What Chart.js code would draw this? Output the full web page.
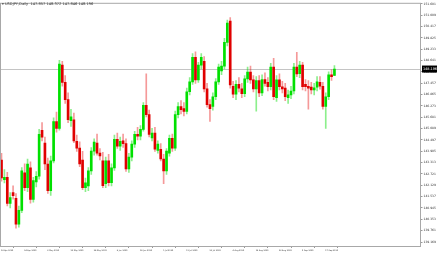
<!DOCTYPE html>
<html>
<head>
<meta charset="utf-8">
<script src="https://cdn.jsdelivr.net/npm/chart.js@4.4.1/dist/chart.umd.min.js"></script>
<style>
  html, body { margin: 0; padding: 0; background: #fff; }
</style>
</head>
<body>
<canvas id="my_chart" width="440" height="254"></canvas>
<script>
// Symbol shown in the top left corner
const symbol = 'USDJPY,Daily';

// Daily candles, 14 Apr 2025 -> 22 Sep 2025 (one per weekday)
const opens = [
  143.45,142.42,142.55,141.18,141.75,141.45,140.10,140.82,142.78,142.00,
  143.04,141.39,142.30,142.60,145.00,144.33,143.24,141.85,143.40,145.46,
  145.10,148.40,147.50,146.60,145.50,145.55,144.43,144.07,143.45,142.00,
  142.10,142.88,143.91,144.33,143.81,143.40,142.21,143.40,142.26,143.04,
  144.53,144.17,144.45,144.30,142.99,143.60,144.28,144.79,144.69,145.05,
  146.30,145.82,144.60,144.85,143.95,144.00,143.50,142.88,143.80,144.58,
  144.07,145.82,146.24,146.13,145.98,147.01,147.53,148.81,147.63,148.40,
  148.60,147.16,146.34,146.24,146.75,147.53,148.10,148.35,149.59,150.70,
  147.30,146.88,147.40,147.16,146.91,147.68,148.04,147.63,147.16,147.60,
  146.95,147.65,147.50,147.27,148.30,146.70,147.63,147.27,147.20,146.70,
  146.85,147.05,148.30,147.95,148.40,147.40,147.30,147.25,147.10,147.25,
  147.50,147.30,146.24,146.75,147.90,147.857
];
const highs = [
  143.80,142.95,142.80,141.75,142.10,141.70,141.05,143.05,143.25,143.50,
  143.35,142.55,142.85,145.05,145.40,144.65,143.55,143.65,145.65,145.95,
  148.65,148.60,147.85,146.95,146.10,145.90,144.75,144.40,143.90,142.50,
  143.05,144.10,144.55,144.80,144.05,143.85,143.60,143.75,143.25,144.75,
  144.85,144.65,144.80,144.55,143.80,144.45,144.95,145.15,145.25,146.45,
  147.94,146.05,145.10,145.15,144.45,144.30,143.75,144.05,144.75,144.80,
  146.00,146.45,146.55,146.45,147.20,147.75,149.00,149.10,148.55,149.00,
  148.85,147.45,146.60,146.95,147.70,148.45,148.60,149.80,150.75,150.88,
  147.55,147.60,147.75,147.45,147.85,148.30,148.35,147.85,147.80,147.85,
  147.90,148.00,147.75,148.50,148.75,147.85,147.95,147.55,147.45,147.10,
  147.30,148.50,149.07,148.60,148.55,147.65,147.60,147.50,147.45,147.80,
  147.80,147.50,146.95,148.05,148.15,148.372
];
const lows = [
  142.35,142.25,141.05,140.95,141.40,139.89,139.95,140.70,141.85,141.80,
  141.20,141.25,142.05,142.45,144.45,142.95,141.70,141.60,143.30,144.90,
  145.00,147.30,146.40,145.40,145.20,144.35,143.90,143.10,141.90,141.80,
  141.85,142.70,143.70,143.70,143.45,142.00,142.00,142.10,142.10,142.90,
  144.05,143.95,144.10,142.85,142.80,143.40,144.10,144.50,144.50,144.95,
  145.70,144.65,144.45,143.90,143.80,143.40,142.21,142.70,143.65,143.90,
  143.95,145.65,145.85,145.75,145.85,146.85,147.40,147.45,147.50,148.20,
  147.00,146.20,145.46,146.05,146.60,147.40,147.90,148.20,149.40,147.20,
  146.70,146.60,147.00,146.70,146.75,147.50,147.45,147.00,146.00,146.75,
  146.80,147.30,147.05,147.10,146.60,146.50,147.10,146.95,146.55,146.40,
  146.65,146.90,147.80,147.75,147.10,147.05,146.10,146.90,146.85,147.05,
  147.15,146.10,145.10,146.60,147.60,147.846
];
const closes = [
  142.52,142.55,141.18,141.49,141.59,140.10,140.82,142.88,142.00,143.24,
  141.39,142.37,142.60,144.79,144.64,143.24,141.85,143.40,145.46,145.10,
  148.45,147.50,146.60,145.55,145.70,144.45,144.07,143.24,142.00,142.26,
  142.88,143.91,144.38,143.81,143.66,142.11,143.40,142.26,143.04,144.53,
  144.17,144.43,144.30,142.99,143.60,144.28,144.79,144.69,145.05,146.30,
  145.82,144.79,144.85,144.02,144.28,143.50,142.88,143.91,144.58,144.07,
  145.82,146.24,146.08,145.98,147.01,147.53,148.81,147.63,148.40,148.81,
  147.16,146.34,146.13,146.75,147.53,148.30,148.35,149.59,150.60,147.37,
  146.88,147.40,147.20,146.91,147.68,148.04,147.63,147.16,147.60,146.95,
  147.65,147.45,147.27,148.30,146.75,147.63,147.27,147.16,146.75,146.85,
  147.05,148.30,147.94,148.40,147.27,147.27,147.20,147.10,147.22,147.53,
  147.30,146.24,146.75,147.90,147.80,148.196
];

// Date labels, one every 8 bars
const dateTicks = [
  '14 Apr 2025','24 Apr 2025','6 May 2025','16 May 2025','28 May 2025',
  '9 Jun 2025','19 Jun 2025','1 Jul 2025','11 Jul 2025','23 Jul 2025',
  '4 Aug 2025','14 Aug 2025','26 Aug 2025','5 Sep 2025','17 Sep 2025'
];

// Price scale labels on the right
const priceTicks = [
  151.601,151.009,150.417,149.825,149.233,148.641,148.049,147.457,
  146.865,146.273,145.681,145.089,144.497,143.905,143.313,142.721,
  142.129,141.537,140.945,140.353,139.761,139.169
];

const isUp = i => closes[i] >= opens[i];
const last = closes.length - 1;

// Frame, last price line, price tag, date labels and header text
const mtDecor = {
  id: 'mtDecor',
  beforeDatasetsDraw(chart) {
    const {ctx, chartArea: a, scales} = chart;
    const y = Math.round(scales.y.getPixelForValue(closes[last])) + 0.5;
    ctx.save();
    ctx.strokeStyle = '#c4c4c4';
    ctx.lineWidth = 1;
    ctx.beginPath();
    ctx.moveTo(a.left, y);
    ctx.lineTo(a.right, y);
    ctx.stroke();
    ctx.restore();
  },
  afterDraw(chart) {
    const {ctx, chartArea: a, scales} = chart;
    ctx.save();
    ctx.strokeStyle = '#a8a8a8';
    ctx.lineWidth = 1;
    ctx.strokeRect(a.left + 0.5, a.top + 0.5, a.right - a.left - 1, a.bottom - a.top - 1);

    // date labels under the x axis ticks, left aligned like MT4
    ctx.fillStyle = '#333';
    ctx.font = '2px "DejaVu Sans", sans-serif';
    ctx.textAlign = 'left';
    ctx.textBaseline = 'middle';
    dateTicks.forEach((d, k) => {
      ctx.fillText(d, scales.x.getPixelForValue(k * 8) - 0.5, a.bottom + 3.6);
    });

    // price tag
    const y = scales.y.getPixelForValue(closes[last]);
    ctx.fillStyle = '#000';
    ctx.fillRect(a.right + 1, y - 3.5, 15, 7);
    ctx.fillStyle = '#fff';
    ctx.font = '3.4px "DejaVu Sans", sans-serif';
    ctx.fillText(closes[last].toFixed(3), a.right + 2, y);

    // header
    ctx.fillStyle = '#333';
    ctx.font = '3.6px "DejaVu Sans", sans-serif';
    const head = '\u25BE ' + symbol + '  ' + opens[last].toFixed(3) + ' ' + highs[last].toFixed(3) +
      ' ' + lows[last].toFixed(3) + ' ' + closes[last].toFixed(3);
    ctx.fillText(head, 2, 4.5);
    ctx.restore();
  }
};

const ctx = document.getElementById('my_chart').getContext('2d');

const config = {
  type: 'bar',
  data: {
    datasets: [
      {
        label: 'body',
        data: opens.map((o, i) => ({x: i, y: [o, closes[i]]})),
        backgroundColor: opens.map((o, i) => isUp(i) ? '#00e000' : '#e00000'),
        barThickness: 2,
        minBarLength: 1,
        grouped: false,
        order: 0
      },
      {
        label: 'wick',
        data: opens.map((o, i) => ({x: i, y: [lows[i], highs[i]]})),
        backgroundColor: opens.map((o, i) => isUp(i) ? 'rgba(0,220,0,0.45)' : 'rgba(230,0,0,0.4)'),
        barThickness: 1,
        grouped: false,
        order: 1
      }
    ]
  },
  options: {
    responsive: false,
    animation: false,
    devicePixelRatio: 1,
    layout: { padding: 0, autoPadding: false },
    plugins: { legend: { display: false }, tooltip: { enabled: false } },
    scales: {
      x: {
        type: 'linear',
        offset: false,
        min: -0.52,
        max: 144.9,
        afterBuildTicks: s => { s.ticks = dateTicks.map((d, k) => ({value: k * 8})); },
        afterFit: s => { s.height = 7; },
        ticks: { display: false },
        grid: { drawOnChartArea: false, tickLength: 1, color: '#999' },
        border: { display: false }
      },
      y: {
        position: 'right',
        min: 138.909,
        max: 151.653,
        afterBuildTicks: s => { s.ticks = priceTicks.map(v => ({value: v})); },
        afterFit: s => { s.width = 19; },
        ticks: {
          callback: v => v.toFixed(3),
          padding: 1,
          color: '#333',
          font: { size: 3, family: '"DejaVu Sans", sans-serif' }
        },
        grid: { drawOnChartArea: false, tickLength: 1.5, color: '#999' },
        border: { display: false }
      }
    }
  },
  plugins: [mtDecor]
};

const myChart = new Chart(ctx, config);
</script>
</body>
</html>
